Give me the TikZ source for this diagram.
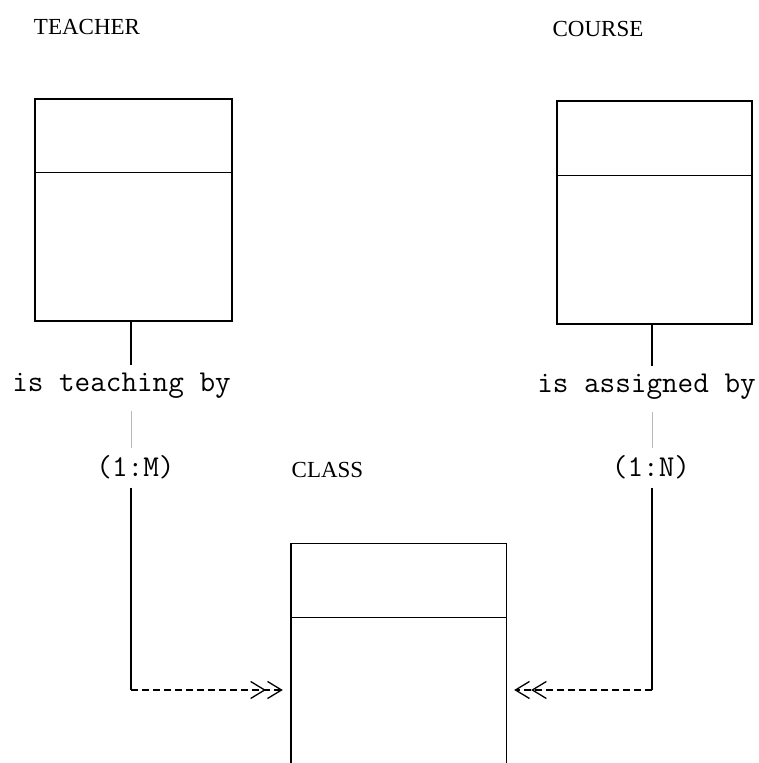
\documentclass[tikz,border=0pt]{standalone}
\usepackage{fontspec}
\setmainfont{Liberation Serif}
\usetikzlibrary{arrows.meta}
\begin{document}
\begin{tikzpicture}[x=1pt,y=1pt,
  entity/.style={draw, line width=1.4pt, inner sep=0pt},
  title/.style={font=\fontsize{23}{23}\selectfont, inner sep=0pt, anchor=base},
  rel/.style={font=\ttfamily\fontsize{30.3}{30}\selectfont, inner xsep=0pt, inner ysep=8pt, anchor=base},
  conn/.style={line width=1.4pt},
  faint/.style={gray!55, line width=0.6pt, shorten <=4pt},
  barb/.tip={Straight Barb[length=14pt,width=17pt,line width=1.3pt]},
  dashconn/.style={line width=1.4pt, dash pattern=on 7pt off 4pt,
    -{barb[sep=1pt]barb}, shorten >=8pt}
]
\useasboundingbox (0,0) rectangle (759,763);

% entities
\node[entity, minimum width=197pt, minimum height=222pt] (teacher) at (133.5,553) {};
\node[entity, minimum width=195pt, minimum height=223pt] (course) at (654.5,550.5) {};
\node[minimum width=215pt, minimum height=239pt, inner sep=0pt] (class) at (398.5,99.5) {};
\draw[line width=1.4pt] (class.south west) -- (class.north west) -- (class.north east) -- (class.south east);

% dividers
\draw[line width=1.4pt] ([yshift=-74pt]teacher.north west) -- ([yshift=-74pt]teacher.north east);
\draw[line width=1.4pt] ([yshift=-75pt]course.north west) -- ([yshift=-75pt]course.north east);
\draw[line width=1.4pt] ([yshift=-74pt]class.north west) -- ([yshift=-74pt]class.north east);

% titles
\node[title] (tteacher) at (87,728) {TEACHER};
\node[title] (tcourse) at (598,726) {COURSE};
\node[title] (tclass) at (327.5,285) {CLASS};

% relationship labels
\node[rel] (trel) at (121.5,371) {is teaching by};
\node[rel] (crel) at (646.5,370) {is assigned by};
\node[rel] (tcard) at (135.5,286) {(1:M)};
\node[rel] (ccard) at (651,286) {(1:N)};

\coordinate (tcorner) at (131,73);
\coordinate (ccorner) at (652,73);

% teacher connector
\draw[conn] (teacher.south -| tcorner) -- (trel.north -| tcorner);
\draw[faint] (trel.south -| tcorner) -- (tcard.north -| tcorner);
\draw[conn] (tcard.south -| tcorner) -- (tcorner);
\draw[dashconn] (tcorner) -- (class.west |- tcorner);

% course connector
\draw[conn] (course.south -| ccorner) -- (crel.north -| ccorner);
\draw[faint] (crel.south -| ccorner) -- (ccard.north -| ccorner);
\draw[conn] (ccard.south -| ccorner) -- (ccorner);
\draw[dashconn] (ccorner) -- (class.east |- ccorner);
\end{tikzpicture}
\end{document}
